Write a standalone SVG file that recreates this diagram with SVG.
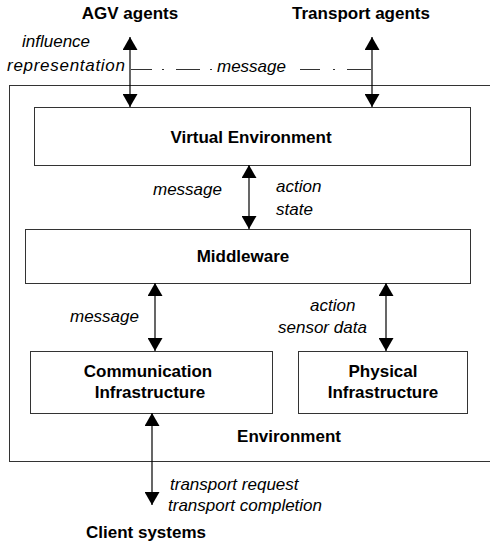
<svg xmlns="http://www.w3.org/2000/svg" width="490" height="544" viewBox="0 0 490 544">
<defs>
<marker id="ah" viewBox="0 0 13 15" refX="13" refY="7.5" markerWidth="13" markerHeight="15" markerUnits="userSpaceOnUse" orient="auto-start-reverse">
<path d="M0,0 L13,7.5 L0,15 z" fill="#000"/>
</marker>
</defs>
<style>
.box{fill:#fff;stroke:#333;stroke-width:1}
.b{font-family:"Liberation Sans",Arial,sans-serif;font-weight:bold;font-size:17px;fill:#000}
.i{font-family:"Liberation Sans",Arial,sans-serif;font-style:italic;font-size:17px;fill:#000}
.c{text-anchor:middle}
.ar{stroke:#000;stroke-width:1.2;fill:none;marker-start:url(#ah);marker-end:url(#ah)}
.dd{stroke:#333;stroke-width:1;fill:none}
</style>
<g id="environment">
<rect class="box" x="9.5" y="85.5" width="490" height="376" fill="#fff"/>
<text class="b c" x="289" y="442">Environment</text>
</g>
<g id="agv-agents"><text class="b c" x="130" y="19">AGV agents</text></g>
<g id="transport-agents"><text class="b c" x="361" y="19">Transport agents</text></g>
<g id="virtual-environment">
<rect class="box" x="34.5" y="107.5" width="436" height="58"/>
<text class="b c" x="251" y="143">Virtual Environment</text>
</g>
<g id="middleware">
<rect class="box" x="25.5" y="229.5" width="445" height="54"/>
<text class="b c" x="243" y="262">Middleware</text>
</g>
<g id="communication-infrastructure">
<rect class="box" x="30.5" y="351.5" width="242" height="62"/>
<text class="b c" x="148" y="377">Communication</text>
<text class="b c" x="150" y="398">Infrastructure</text>
</g>
<g id="physical-infrastructure">
<rect class="box" x="298.5" y="351.5" width="169" height="62"/>
<text class="b c" x="383" y="377">Physical</text>
<text class="b c" x="383" y="398">Infrastructure</text>
</g>
<g id="client-systems"><text class="b c" x="146" y="538">Client systems</text></g>
<g id="connectors">
<line class="ar" x1="130" y1="37" x2="130" y2="107"/>
<line class="ar" x1="372" y1="37" x2="372" y2="107"/>
<path class="dd" d="M131,69.5 H152 M162,69.5 H164 M176,69.5 H200 M210,69.5 H212 M300,69.5 H320 M333,69.5 H335 M347,69.5 H371"/>
<line class="ar" x1="249" y1="165" x2="249" y2="229"/>
<line class="ar" x1="155" y1="283" x2="155" y2="351"/>
<line class="ar" x1="386" y1="283" x2="386" y2="351"/>
<line class="ar" x1="152" y1="413" x2="152" y2="505"/>
</g>
<g id="labels">
<text class="i" x="22" y="47">influence</text>
<text class="i" x="7" y="71" textLength="118" lengthAdjust="spacing">representation</text>
<text class="i" x="217" y="72">message</text>
<text class="i" x="153" y="195">message</text>
<text class="i" x="276" y="192">action</text>
<text class="i" x="276" y="215">state</text>
<text class="i" x="70" y="322">message</text>
<text class="i" x="310" y="311">action</text>
<text class="i" x="278" y="333">sensor data</text>
<text class="i" x="170" y="490">transport request</text>
<text class="i" x="168" y="511">transport completion</text>
</g>
</svg>
